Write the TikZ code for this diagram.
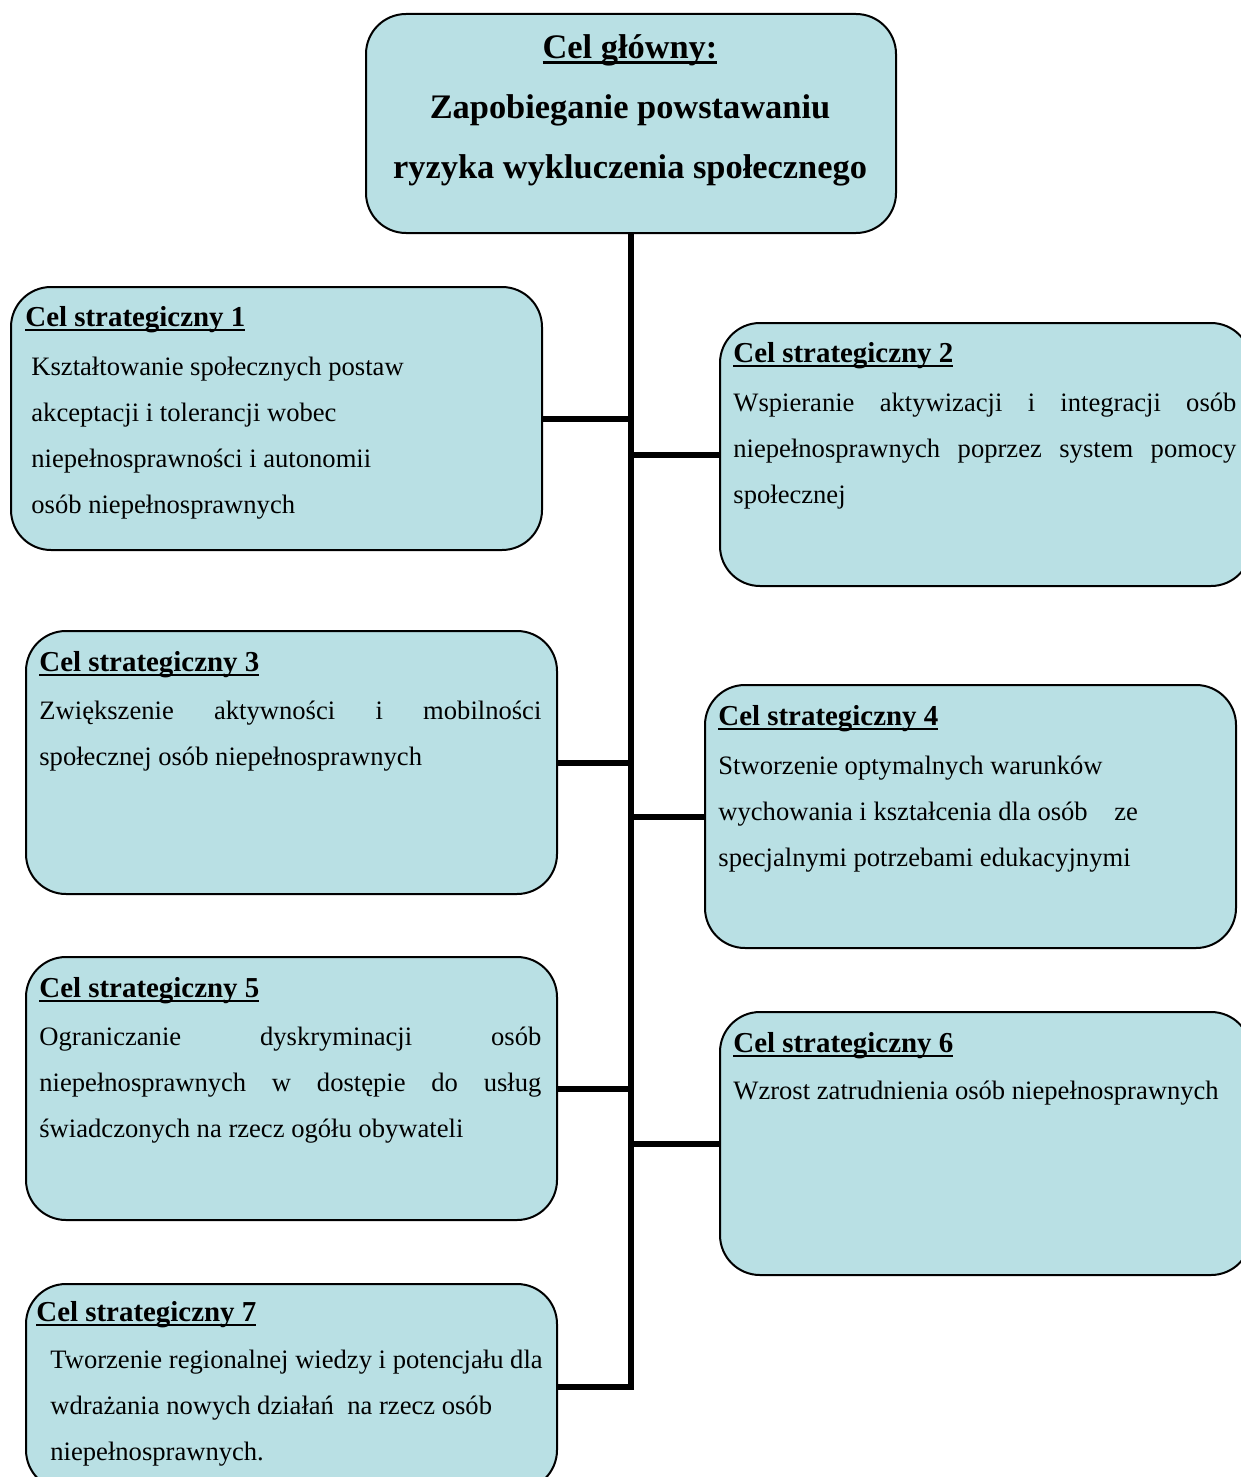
\documentclass[tikz,border=0pt]{standalone}
\usepackage{fontspec}
\setmainfont{Liberation Serif}
\usetikzlibrary{positioning}
\definecolor{celfill}{RGB}{185,224,228}
\newcommand{\podkresl}[1]{\setbox0\hbox{#1}\rlap{\rule[-2.6pt]{\wd0}{1.1pt}}\box0}

\begin{document}
\begin{tikzpicture}[x=0.5pt, y=-0.5pt,
    celbox/.style={draw, line width=1pt, fill=celfill, rounded corners=20pt, minimum width=265.5pt, minimum height=131.5pt, inner sep=0pt, anchor=north west},
    naglowek/.style={inner sep=0pt, anchor=base west, font=\fontsize{14.45pt}{17pt}\selectfont\bfseries},
    opis/.style={inner sep=0pt, anchor=north west, align=left, font=\fontsize{13.3pt}{23pt}\selectfont},
    linia/.style={line width=3pt, line join=miter}]
  \useasboundingbox (0,0) rectangle (1241,1477);
  \clip (0,0) rectangle (1241,1477);

  % cel glowny
  \node(glowny) [celbox, minimum width=265pt, minimum height=109.5pt] at (365,13) {};
  \node(tytul) [inner sep=0pt, anchor=north, align=center, font=\fontsize{17.2pt}{30pt}\selectfont\bfseries] at (630,16)
    {\strut\podkresl{Cel główny:}\\Zapobieganie powstawaniu\\ryzyka wykluczenia społecznego};

  % cele strategiczne
  \node(cel1) [celbox] at (10,286) {};
  \node(cel2) [celbox] at (719,322) {};
  \node(cel3) [celbox] at (25,630) {};
  \node(cel4) [celbox] at (704,684) {};
  \node(cel5) [celbox] at (25,956) {};
  \node(cel6) [celbox] at (719,1011) {};
  \node(cel7) [celbox, minimum height=103pt] at (25,1283) {};

  \node(nag1) [naglowek] at (25,326) {\podkresl{Cel strategiczny 1}};
  \node(opis1) [opis] at (31,343) {\strut Kształtowanie społecznych postaw\\akceptacji i tolerancji wobec\\niepełnosprawności i autonomii\\osób niepełnosprawnych};

  \node(nag2) [naglowek] at (733,362) {\podkresl{Cel strategiczny 2}};
  \node(opis2) [opis] at (733,379) {\strut\makebox[251.5pt][s]{Wspieranie aktywizacji i integracji osób}\\\makebox[251.5pt][s]{niepełnosprawnych poprzez system pomocy}\\społecznej};

  \node(nag3) [naglowek] at (39,671) {\podkresl{Cel strategiczny 3}};
  \node(opis3) [opis] at (39,687) {\strut\makebox[251pt][s]{Zwiększenie aktywności i mobilności}\\społecznej osób niepełnosprawnych};

  \node(nag4) [naglowek] at (718,725) {\podkresl{Cel strategiczny 4}};
  \node(opis4) [opis] at (718,742) {\strut Stworzenie optymalnych warunków\\wychowania i kształcenia dla osób\hspace{10pt} ze\\specjalnymi potrzebami edukacyjnymi};

  \node(nag5) [naglowek] at (39,997) {\podkresl{Cel strategiczny 5}};
  \node(opis5) [opis] at (39,1013) {\strut\makebox[251pt][s]{Ograniczanie dyskryminacji osób}\\\makebox[251pt][s]{niepełnosprawnych w dostępie do usług}\\świadczonych na rzecz ogółu obywateli};

  \node(nag6) [naglowek] at (733,1052) {\podkresl{Cel strategiczny 6}};
  \node(opis6) [opis] at (733,1067) {\strut Wzrost zatrudnienia osób niepełnosprawnych};

  \node(nag7) [naglowek] at (36,1321) {\podkresl{Cel strategiczny 7}};
  \node(opis7) [opis] at (50,1336) {\strut Tworzenie regionalnej wiedzy i potencjału dla\\wdrażania nowych działań\ \ na rzecz osób\\niepełnosprawnych.};

  % polaczenia
  \draw[linia] (glowny.south) |- (cel7.east);
  \foreach \c in {cel1,cel3,cel5}
    \draw[linia] (\c.east) -- (\c.east -| glowny.south);
  \foreach \c in {cel2,cel4,cel6}
    \draw[linia] (\c.west) -- (\c.west -| glowny.south);
\end{tikzpicture}
\end{document}
